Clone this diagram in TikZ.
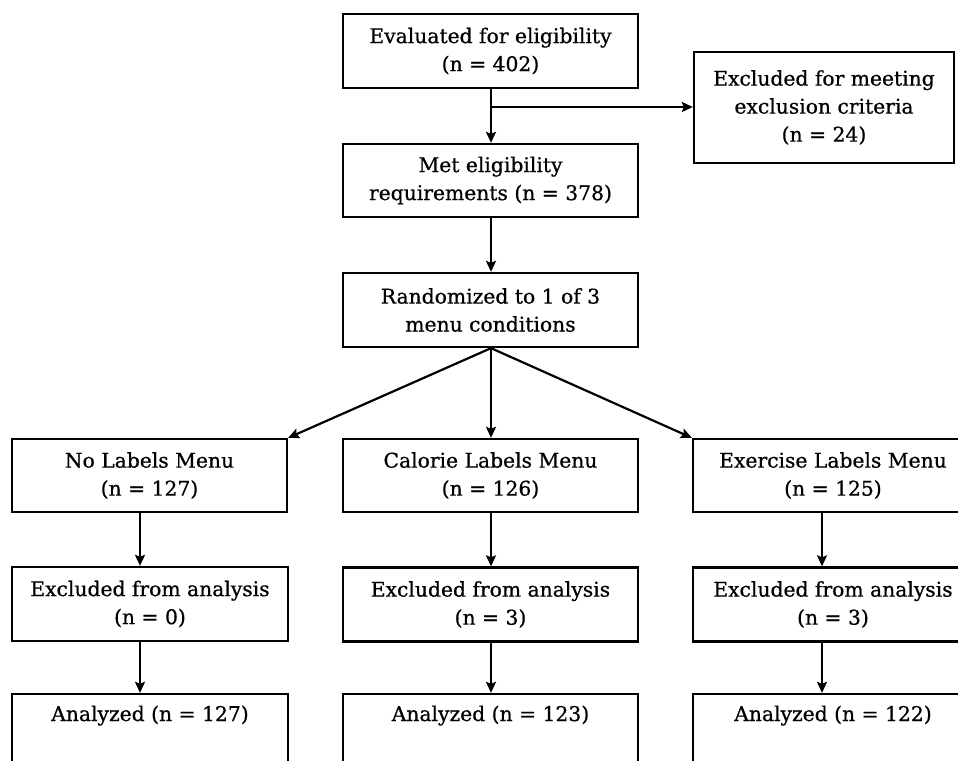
\documentclass[tikz,border=0pt]{standalone}
\usepackage{fontspec}
\setmainfont{DejaVu Serif}[BoldFont=DejaVu Serif, BoldFeatures={FakeBold=0.7}]
\usetikzlibrary{arrows.meta}
\begin{document}
\begin{tikzpicture}[x=1pt,y=-1pt,
  box/.style={draw=black, line width=2.3pt, fill=white, align=center, inner sep=0pt,
    font=\bfseries\fontsize{20.3}{28}\selectfont},
  arr/.style={draw=black, line width=2.2pt, -{Stealth[length=11pt,width=10pt,inset=2pt]}},
  ]
\useasboundingbox (0,0) rectangle (958,760);
\clip (0,0) rectangle (958,760);
\fill[white] (0,0) rectangle (958,760);
% top column
\node[box, minimum width=295pt, minimum height=74pt] (eval) at (490.5,51) {Evaluated for eligibility\\(n = 402)};
\node[box, minimum width=260pt, minimum height=111pt] (excl) at (824,107.5) {Excluded for meeting\\exclusion criteria\\(n = 24)};
\node[box, minimum width=295pt, minimum height=73pt] (met) at (490.5,180.5) {Met eligibility\\requirements (n = 378)};
\node[box, minimum width=295pt, minimum height=74pt] (rand) at (490.5,310) {Randomized to 1 of 3\\menu conditions};
% row 2
\node[box, minimum width=275pt, minimum height=73pt] (nl) at (149.5,475.5) {No Labels Menu\\(n = 127)};
\node[box, minimum width=295pt, minimum height=73pt] (cl) at (490.5,475.5) {Calorie Labels Menu\\(n = 126)};
\node[box, minimum width=280pt, minimum height=73pt] (el) at (833,475.5) {Exercise Labels Menu\\(n = 125)};
% row 3
\node[box, minimum width=276pt, minimum height=74pt] (nlx) at (150,604) {Excluded from analysis\\(n = 0)};
\node[box, minimum width=295pt, minimum height=74pt] (clx) at (490.5,604.5) {Excluded from analysis\\(n = 3)};
\node[box, minimum width=280pt, minimum height=74pt] (elx) at (833,604.5) {Excluded from analysis\\(n = 3)};
% row 4
\node[box, minimum width=276pt, minimum height=75pt] (nla) at (150,731.5) {Analyzed (n = 127)\\\strut};
\node[box, minimum width=295pt, minimum height=75pt] (cla) at (490.5,731.5) {Analyzed (n = 123)\\\strut};
\node[box, minimum width=280pt, minimum height=75pt] (ela) at (833,731.5) {Analyzed (n = 122)\\\strut};
% column coordinates
\coordinate (colL) at (140,0);
\coordinate (colM) at (491,0);
\coordinate (colR) at (822,0);
\coordinate (br) at (491,107);
% connectors
\draw[arr] (eval.south -| colM) -- (met.north -| colM);
\draw[arr] (br) -- (excl.west |- br);
\draw[arr] (met.south -| colM) -- (rand.north -| colM);
\draw[arr] (rand.south -| colM) -- (nl.north east);
\draw[arr] (rand.south -| colM) -- (cl.north -| colM);
\draw[arr] (rand.south -| colM) -- (el.north west);
\draw[arr] (nl.south -| colL) -- (nlx.north -| colL);
\draw[arr] (nlx.south -| colL) -- (nla.north -| colL);
\draw[arr] (cl.south -| colM) -- (clx.north -| colM);
\draw[arr] (clx.south -| colM) -- (cla.north -| colM);
\draw[arr] (el.south -| colR) -- (elx.north -| colR);
\draw[arr] (elx.south -| colR) -- (ela.north -| colR);
\end{tikzpicture}
\end{document}
